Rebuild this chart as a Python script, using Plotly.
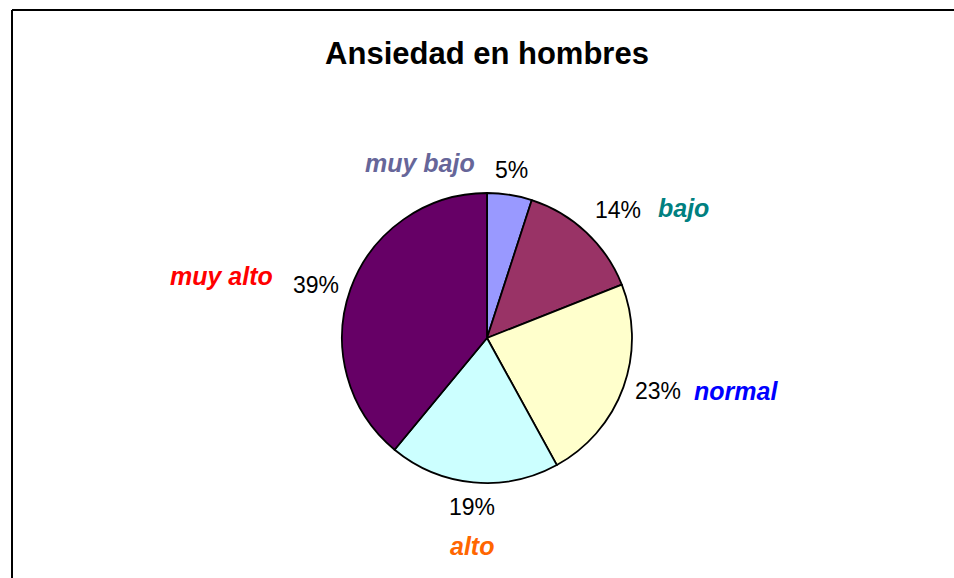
import math
import plotly.graph_objects as go

# Data
categories = ["muy bajo", "bajo", "normal", "alto", "muy alto"]
values = [5, 14, 23, 19, 39]
slice_colors = ["#9999FF", "#993366", "#FFFFCC", "#CCFFFF", "#660066"]
name_colors = ["#666699", "#008080", "#0000FF", "#FF6600", "#FF0000"]
title_text = "Ansiedad en hombres"

# Layout (pixels)
W, H = 954, 578
CX, CY, R = 487, 338, 145
# category name label centres (pixel positions)
name_pos = [(420, 163), (683, 208), (736, 391), (472, 546), (221, 276)]

FONT = "Arial, Liberation Sans, sans-serif"


def px(x):
    return x / W


def py(y):
    return 1 - y / H


fig = go.Figure()
fig.add_trace(go.Pie(
    labels=categories,
    values=values,
    sort=False,
    direction="clockwise",
    rotation=0,
    marker=dict(colors=slice_colors, line=dict(color="black", width=1.8)),
    textinfo="none",
    hoverinfo="label+percent",
    showlegend=False,
    domain=dict(x=[px(CX - R), px(CX + R)], y=[py(CY + R), py(CY - R)]),
))

annotations = []
total = sum(values)
cum = 0
for i, v in enumerate(values):
    mid = (cum + v / 2) / total * 2 * math.pi
    cum += v
    s, c = math.sin(mid), math.cos(mid)
    d = R + 10
    x = CX + d * s
    y = CY - d * c
    xa = "left" if s > 0.3 else ("right" if s < -0.3 else "center")
    ya = "bottom" if c > 0.5 else ("top" if c < -0.5 else "middle")
    pct = round(v / total * 100)
    annotations.append(dict(
        x=px(x), y=py(y), xref="paper", yref="paper",
        text=f"{pct}%", showarrow=False, xanchor=xa, yanchor=ya,
        font=dict(family=FONT, size=23, color="black"),
    ))
    nx, ny = name_pos[i]
    annotations.append(dict(
        x=px(nx), y=py(ny), xref="paper", yref="paper",
        text=f"<b><i>{categories[i]}</i></b>", showarrow=False,
        xanchor="center", yanchor="middle",
        font=dict(family=FONT, size=25, color=name_colors[i]),
    ))

fig.update_layout(
    width=W, height=H,
    margin=dict(l=0, r=0, t=0, b=0),
    paper_bgcolor="white",
    plot_bgcolor="white",
    title=dict(
        text=f"<b>{title_text}</b>",
        x=px(CX), xanchor="center", y=py(53), yanchor="middle",
        font=dict(family=FONT, size=31, color="black"),
    ),
    annotations=annotations,
    shapes=[
        dict(type="line", xref="paper", yref="paper",
             x0=px(12), x1=1, y0=py(10), y1=py(10),
             line=dict(color="black", width=2)),
        dict(type="line", xref="paper", yref="paper",
             x0=px(12), x1=px(12), y0=py(10), y1=0,
             line=dict(color="black", width=2)),
    ],
)

fig.write_html(
    "out.html",
    config={"displayModeBar": False},
    post_script="document.body.style.margin='0px';document.body.style.overflow='hidden';",
)
